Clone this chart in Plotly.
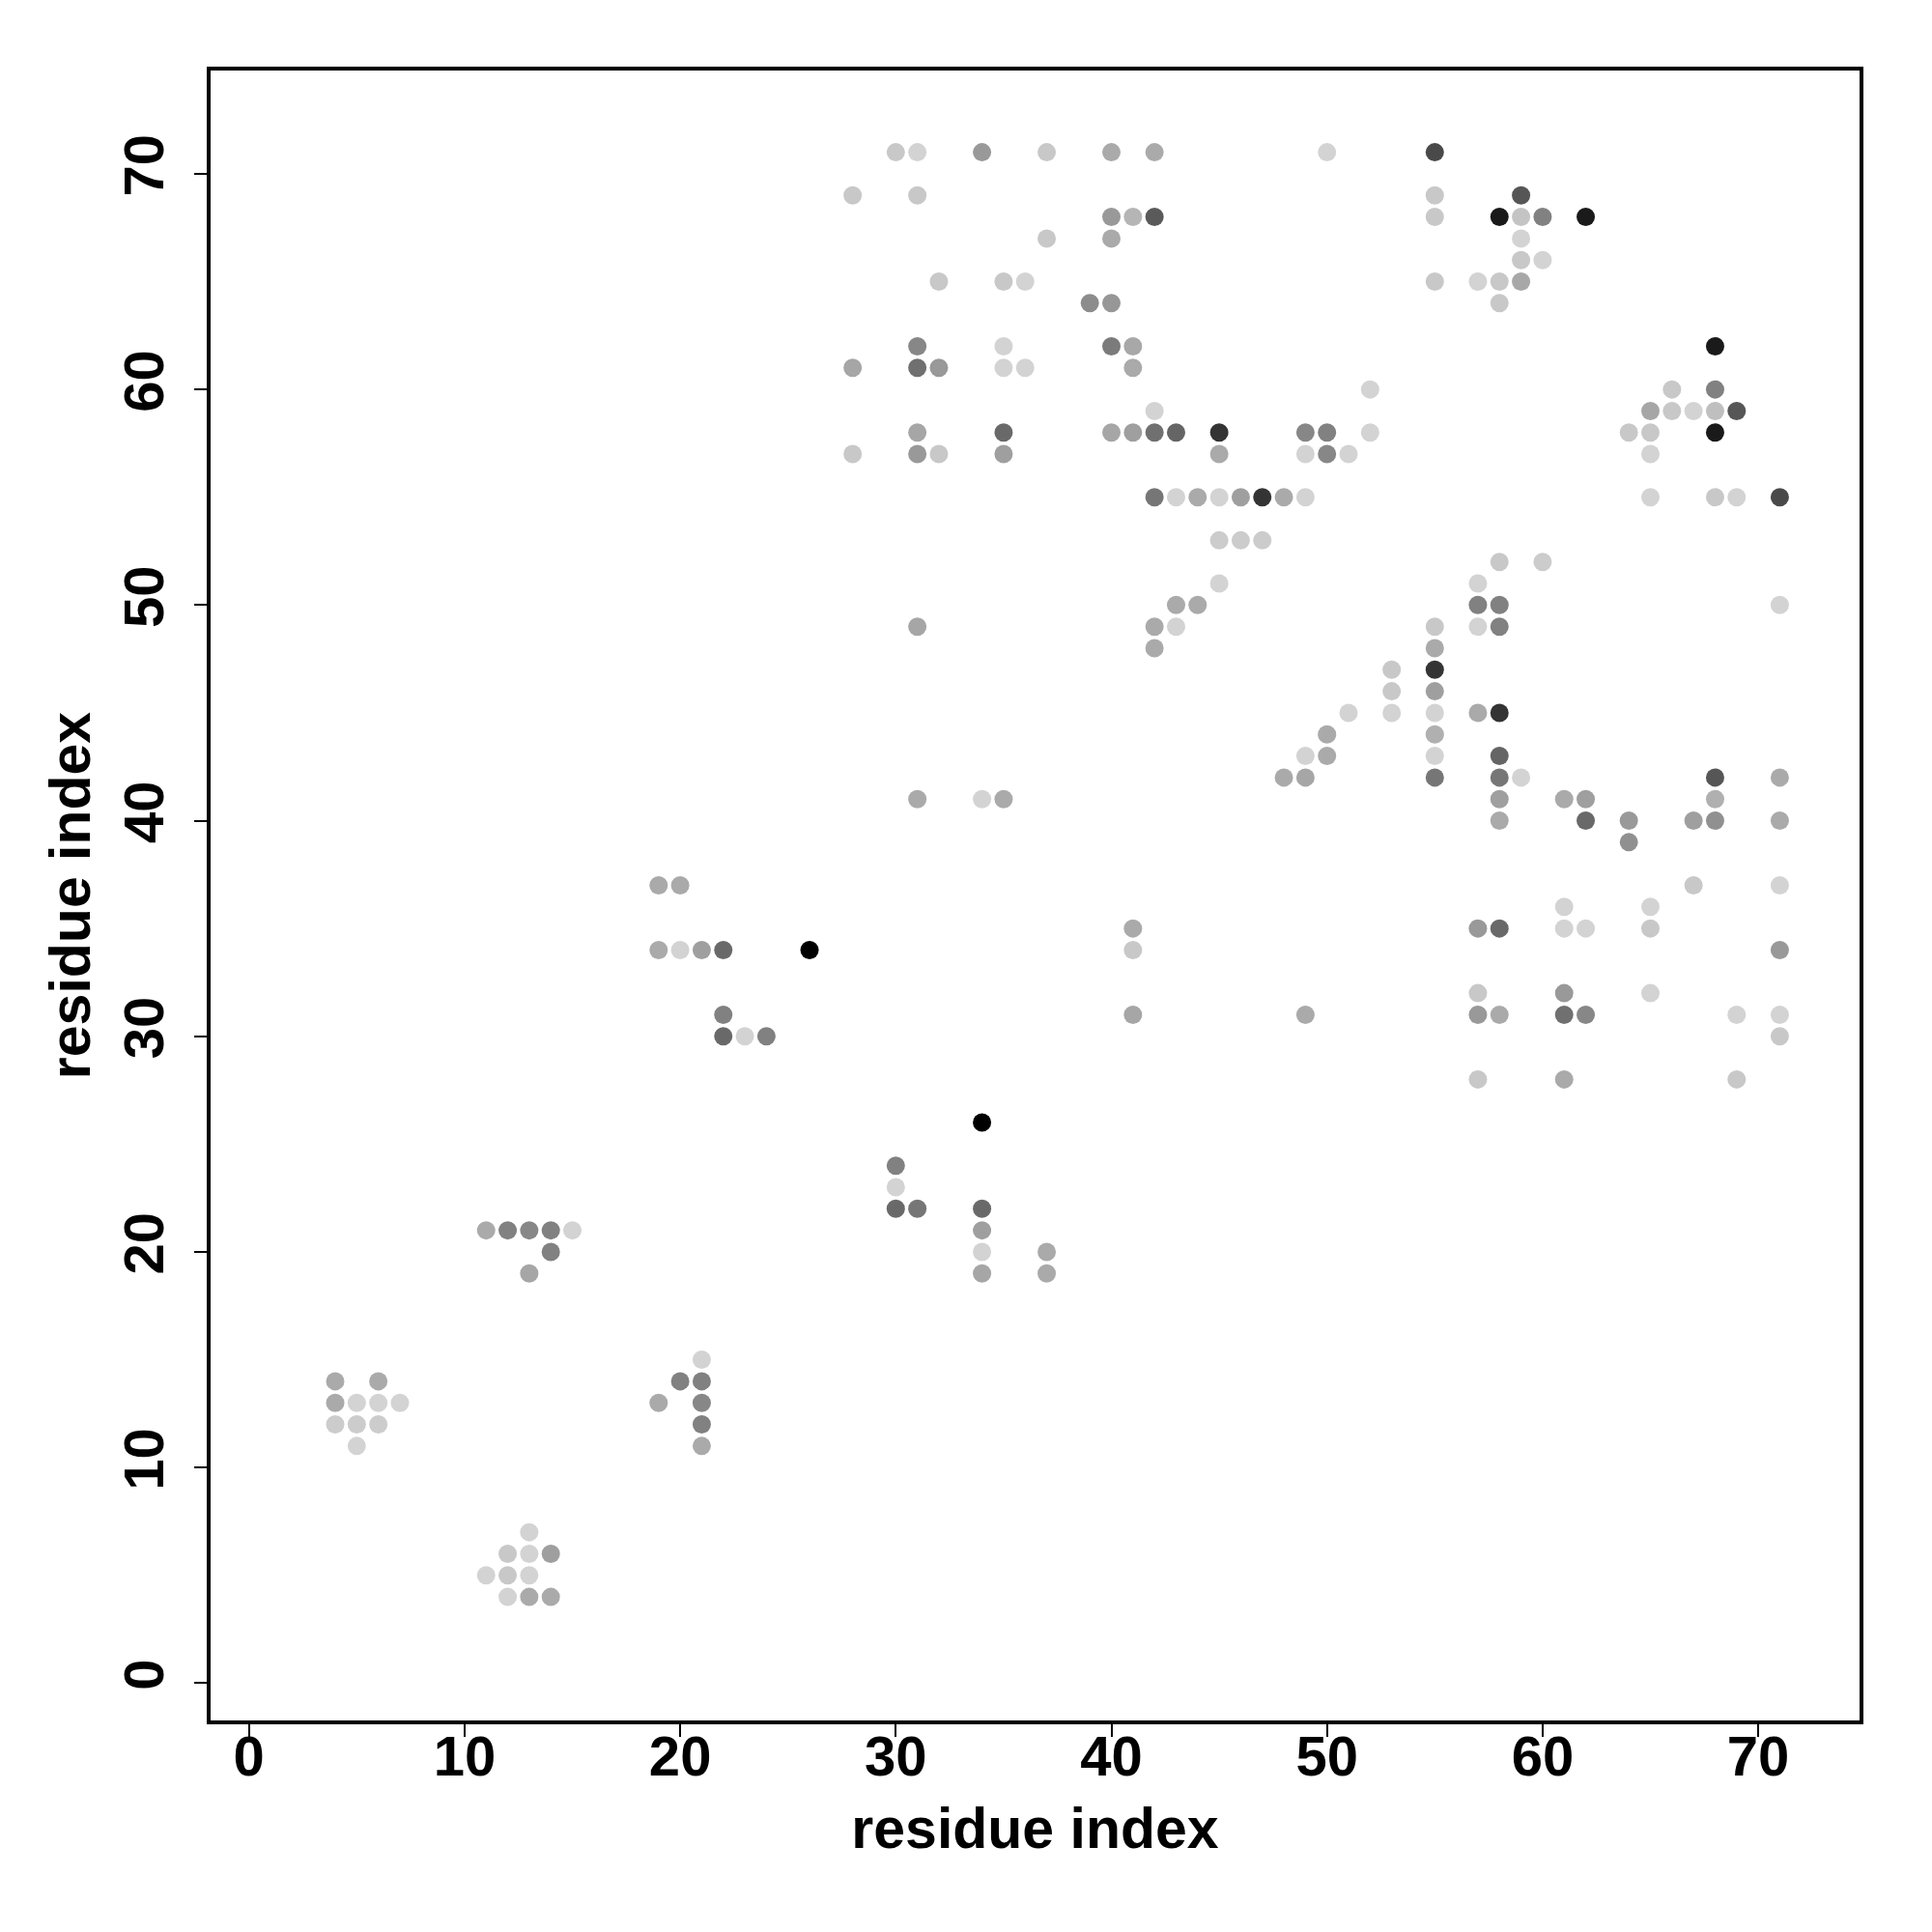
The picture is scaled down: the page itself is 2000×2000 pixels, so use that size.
import plotly.graph_objects as go

# residue pairs (x index, y index) and contact score (0 = weak, 1 = strong)
res_x = [
    30, 31, 34, 37, 40, 42, 50, 55,
    28, 31, 55, 59,
    40, 41, 42, 55, 58, 59, 60, 62,
    37, 40, 59,
    59, 60,
    32, 35, 36, 55, 57, 58, 59,
    39, 40, 58,
    31, 35, 40, 41, 68,
    28, 31, 32, 35, 36, 41,
    52, 66, 68,
    42, 65, 66, 67, 68, 69,
    31, 35, 40, 41, 42, 43, 45, 49, 50, 52, 64, 65, 68,
    28, 31, 32, 35, 45, 49, 50, 51, 65,
    42, 43, 44, 45, 46, 47, 48, 49, 65, 68, 69, 71,
    45, 46, 47,
    58, 60,
    45, 57,
    43, 44, 57, 58, 71,
    31, 42, 43, 55, 57, 58,
    42, 55,
    53, 55,
    53, 55,
    51, 53, 55, 57, 58,
    50, 55,
    49, 50, 55, 58,
    48, 49, 55, 58, 59, 68, 71,
    31, 34, 35, 58, 61, 62, 68,
    58, 62, 64, 67, 68, 71,
    64,
    19, 20, 67, 71,
    61, 65,
    41, 57, 58, 61, 62, 65,
    19, 20, 21, 22, 26, 41, 71,
    57, 61, 65,
    22, 41, 49, 57, 58, 61, 62, 69, 71,
    22, 23, 24, 71,
    57, 61, 69,
    34,
    30,
    30,
    30, 31, 34,
    11, 12, 13, 14, 15, 34,
    14, 34, 37,
    13, 34, 37,
    21,
    4, 6, 20, 21,
    4, 5, 6, 7, 19, 21,
    4, 5, 6, 21,
    5, 21,
    13,
    12, 13, 14,
    11, 12, 13,
    12, 13, 14,
]

res_y = [
    71, 71, 71, 71, 71, 71, 71, 71,
    69, 69, 69, 69,
    68, 68, 68, 68, 68, 68, 68, 68,
    67, 67, 67,
    66, 66,
    65, 65, 65, 65, 65, 65, 65,
    64, 64, 64,
    62, 62, 62, 62, 62,
    61, 61, 61, 61, 61, 61,
    60, 60, 60,
    59, 59, 59, 59, 59, 59,
    58, 58, 58, 58, 58, 58, 58, 58, 58, 58, 58, 58, 58,
    57, 57, 57, 57, 57, 57, 57, 57, 57,
    55, 55, 55, 55, 55, 55, 55, 55, 55, 55, 55, 55,
    53, 53, 53,
    52, 52,
    51, 51,
    50, 50, 50, 50, 50,
    49, 49, 49, 49, 49, 49,
    48, 48,
    47, 47,
    46, 46,
    45, 45, 45, 45, 45,
    44, 44,
    43, 43, 43, 43,
    42, 42, 42, 42, 42, 42, 42,
    41, 41, 41, 41, 41, 41, 41,
    40, 40, 40, 40, 40, 40,
    39,
    37, 37, 37, 37,
    36, 36,
    35, 35, 35, 35, 35, 35,
    34, 34, 34, 34, 34, 34, 34,
    32, 32, 32,
    31, 31, 31, 31, 31, 31, 31, 31, 31,
    30, 30, 30, 30,
    28, 28, 28,
    26,
    24,
    23,
    22, 22, 22,
    21, 21, 21, 21, 21, 21,
    20, 20, 20,
    19, 19, 19,
    15,
    14, 14, 14, 14,
    13, 13, 13, 13, 13, 13,
    12, 12, 12, 12,
    11, 11,
    7,
    6, 6, 6,
    5, 5, 5,
    4, 4, 4,
]

contact_score = [
    0.07, 0.02, 0.29, 0.07, 0.21, 0.21, 0.02, 0.66,
    0.07, 0.07, 0.07, 0.60,
    0.29, 0.16, 0.58, 0.07, 0.88, 0.09, 0.40, 0.88,
    0.07, 0.21, 0.02,
    0.07, 0.02,
    0.07, 0.07, 0.02, 0.07, 0.02, 0.07, 0.22,
    0.35, 0.30, 0.07,
    0.37, 0.02, 0.43, 0.22, 0.88,
    0.23, 0.48, 0.29, 0.02, 0.02, 0.21,
    0.02, 0.07, 0.40,
    0.02, 0.23, 0.07, 0.02, 0.11, 0.60,
    0.23, 0.51, 0.23, 0.26, 0.48, 0.53, 0.76, 0.37, 0.40, 0.02, 0.07, 0.07, 0.88,
    0.07, 0.29, 0.07, 0.26, 0.21, 0.02, 0.37, 0.02, 0.02,
    0.45, 0.02, 0.21, 0.02, 0.26, 0.76, 0.21, 0.02, 0.02, 0.07, 0.02, 0.66,
    0.05, 0.05, 0.05,
    0.07, 0.05,
    0.02, 0.02,
    0.21, 0.21, 0.40, 0.40, 0.02,
    0.23, 0.21, 0.02, 0.07, 0.02, 0.40,
    0.21, 0.21,
    0.07, 0.76,
    0.07, 0.26,
    0.02, 0.02, 0.02, 0.21, 0.76,
    0.21, 0.18,
    0.02, 0.21, 0.02, 0.53,
    0.21, 0.23, 0.45, 0.45, 0.02, 0.60, 0.21,
    0.21, 0.02, 0.21, 0.26, 0.21, 0.26, 0.18,
    0.21, 0.51, 0.29, 0.26, 0.33, 0.21,
    0.33,
    0.21, 0.21, 0.07, 0.02,
    0.02, 0.02,
    0.21, 0.29, 0.51, 0.02, 0.02, 0.07,
    0.21, 0.02, 0.26, 0.51, 1.00, 0.07, 0.29,
    0.07, 0.29, 0.02,
    0.40, 0.23, 0.21, 0.29, 0.21, 0.48, 0.37, 0.02, 0.02,
    0.51, 0.02, 0.40, 0.07,
    0.07, 0.21, 0.07,
    1.00,
    0.40,
    0.02,
    0.51, 0.45, 0.51,
    0.21, 0.40, 0.37, 0.40, 0.02, 0.26,
    0.40, 0.02, 0.21,
    0.23, 0.23, 0.21,
    0.02,
    0.21, 0.21, 0.40, 0.40,
    0.21, 0.02, 0.02, 0.02, 0.21, 0.37,
    0.05, 0.05, 0.05, 0.40,
    0.02, 0.21,
    0.02,
    0.07, 0.02, 0.26,
    0.02, 0.07, 0.02,
    0.02, 0.21, 0.21,
]

tick_values = [0, 10, 20, 30, 40, 50, 60, 70]
axis_title = "residue index"

fig = go.Figure(
    go.Scatter(
        x=res_x,
        y=res_y,
        mode="markers",
        marker=dict(
            size=19,
            color=contact_score,
            cmin=0,
            cmax=1,
            colorscale=[[0, "rgb(215,215,215)"], [1, "rgb(0,0,0)"]],
            line=dict(width=0),
            showscale=False,
        ),
        showlegend=False,
        hoverinfo="x+y",
    )
)

font_family = "Liberation Sans, Arial, Helvetica, sans-serif"

axis_common = dict(
    tickvals=tick_values,
    ticks="outside",
    ticklen=13,
    tickwidth=2,
    tickcolor="black",
    showline=True,
    mirror=True,
    linewidth=4,
    linecolor="black",
    showgrid=False,
    zeroline=False,
    tickfont=dict(family=font_family, size=58, color="black", weight="bold"),
)

title_font = dict(family=font_family, size=59, color="black", weight="bold")

fig.update_layout(
    width=2000,
    height=2000,
    margin=dict(l=210, r=83, t=65, b=227),
    paper_bgcolor="white",
    plot_bgcolor="white",
    xaxis=dict(
        range=[-1.78, 74.70],
        ticklabelstandoff=-30,
        title=dict(text=axis_title, font=title_font, standoff=24),
        **axis_common,
    ),
    yaxis=dict(
        range=[-1.73, 74.79],
        tickangle=-90,
        ticklabelstandoff=9,
        title=dict(text=axis_title, font=title_font, standoff=4),
        **axis_common,
    ),
)

fig.write_html("out.html")
